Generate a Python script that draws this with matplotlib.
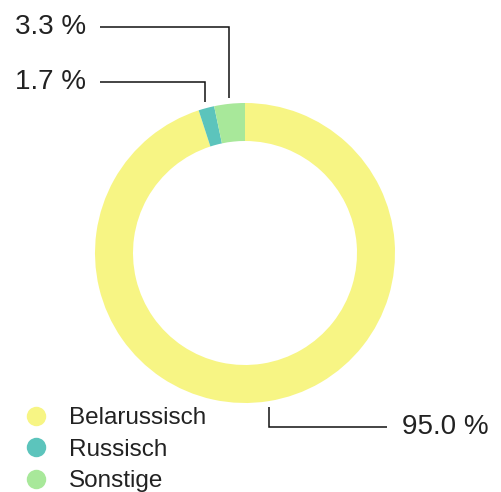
import numpy as np
import matplotlib
matplotlib.use("Agg")
import matplotlib.pyplot as plt
from matplotlib.lines import Line2D

categories = ["Belarussisch", "Russisch", "Sonstige"]
values = [95.0, 1.7, 3.3]
colors = ["#f7f584", "#5cc4bc", "#a8e89a"]
labels = ["95.0 %", "1.7 %", "3.3 %"]

W, H = 502, 492
fig = plt.figure(figsize=(W / 100, H / 100), dpi=100)
ax = fig.add_axes([0, 0, 1, 1])

cx, cy, R = 245, H - 253, 150
width = 38
wedges, _ = ax.pie(values, colors=colors, startangle=90, counterclock=False,
                   center=(cx, cy), radius=R, frame=True,
                   wedgeprops=dict(width=width, linewidth=0))
ax.set_xlim(0, W)
ax.set_ylim(0, H)
ax.set_aspect("equal")
ax.axis("off")

font = "Liberation Sans"
label_y = {"Belarussisch": 427, "Russisch": 82, "Sonstige": 27}
line_end = {"Belarussisch": 387, "Russisch": 100, "Sonstige": 100}
for w, cat, lab in zip(wedges, categories, labels):
    mid = np.deg2rad((w.theta1 + w.theta2) / 2)
    x0 = cx + R * 1.04 * np.cos(mid)
    y0 = cy + R * 1.04 * np.sin(mid)
    ly = H - label_y[cat]
    xe = line_end[cat]
    ax.plot([x0, x0, xe], [y0, ly, ly], color="#111111", lw=1.1,
            solid_joinstyle="miter", solid_capstyle="butt")
    if xe < x0:
        ax.text(xe - 14, ly, lab, ha="right", va="center", fontsize=20,
                family=font, color="#222222")
    else:
        ax.text(xe + 15, ly, lab, ha="left", va="center", fontsize=20,
                family=font, color="#222222")

handles = [Line2D([], [], marker="o", linestyle="none", markersize=14,
                  markerfacecolor=c, markeredgewidth=0) for c in colors]
leg = ax.legend(handles, categories, loc="upper left",
                bbox_to_anchor=(24 / W, 1 - 407 / H), frameon=False,
                prop=dict(family=font, size=17.5), handletextpad=0.85,
                labelspacing=0.4, handlelength=1.0, borderaxespad=0,
                borderpad=0, labelcolor="#222222")

fig.savefig("out.png", dpi=100)
